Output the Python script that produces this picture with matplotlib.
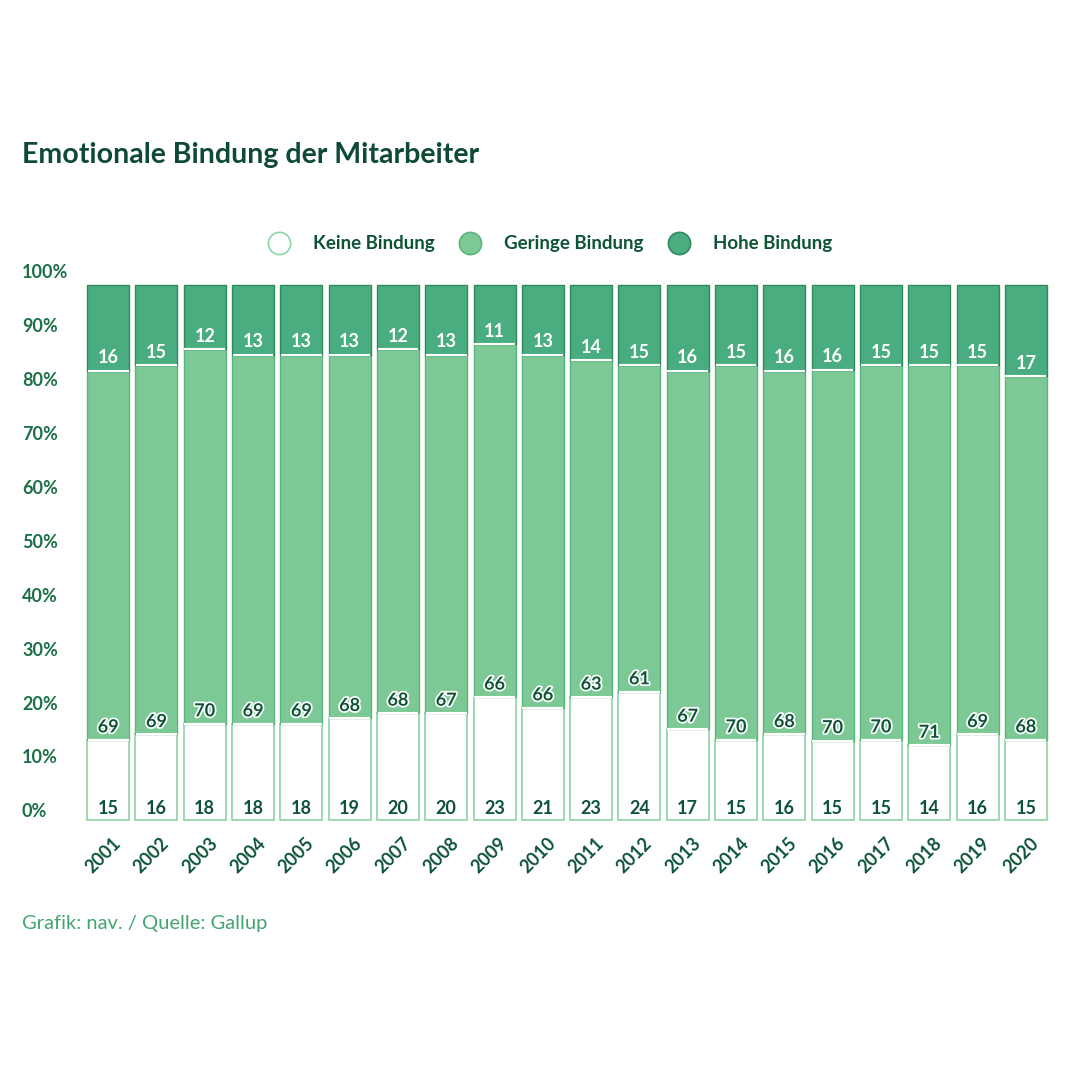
import matplotlib
matplotlib.use("Agg")
import matplotlib.pyplot as plt
from matplotlib.lines import Line2D
from matplotlib.transforms import blended_transform_factory
import matplotlib.patheffects as pe
import numpy as np

years = ["2001", "2002", "2003", "2004", "2005", "2006", "2007", "2008", "2009", "2010",
         "2011", "2012", "2013", "2014", "2015", "2016", "2017", "2018", "2019", "2020"]
keine = [15, 16, 18, 18, 18, 19, 20, 20, 23, 21, 23, 24, 17, 15, 16, 15, 15, 14, 16, 15]
geringe = [69, 69, 70, 69, 69, 68, 68, 67, 66, 66, 63, 61, 67, 70, 68, 70, 70, 71, 69, 68]
hohe = [16, 15, 12, 13, 13, 13, 12, 13, 11, 13, 14, 15, 16, 15, 16, 16, 15, 15, 15, 17]
series_names = ["Keine Bindung", "Geringe Bindung", "Hohe Bindung"]
yticks = [0, 10, 20, 30, 40, 50, 60, 70, 80, 90, 100]

FONT = "Lato"
c_top = "#4aad7f"
c_mid = "#7dc995"
c_edge_top = "#2f8a5f"
c_edge_mid = "#5cb47f"
c_edge_low = "#8fd3a3"
c_dark = "#0d5436"
c_tick = "#1b7047"
c_src = "#44a56f"

fig = plt.figure(figsize=(10.8, 10.8), dpi=100)
fig.patch.set_facecolor("white")
ax = fig.add_axes([84 / 1080, 260 / 1080, 966 / 1080, 535 / 1080])

x = np.arange(len(years))
k0 = np.array(keine, dtype=float)
g0 = np.array(geringe, dtype=float)
h0 = np.array(hohe, dtype=float)
tot = k0 + g0 + h0
# 100% stacked: normalise each year to its total
k = k0 / tot * 100
g = g0 / tot * 100
h = h0 / tot * 100
w = 0.87

ax.bar(x, k, width=w, color="white", edgecolor=c_edge_low, linewidth=1.2, clip_on=False)
ax.bar(x, g, width=w, bottom=k, color=c_mid, edgecolor=c_edge_mid, linewidth=1.0, clip_on=False)
ax.bar(x, h, width=w, bottom=k + g, color=c_top, edgecolor=c_edge_top, linewidth=1.0, clip_on=False)
ax.hlines(k + g, x - w / 2 * 0.97, x + w / 2 * 0.97, colors="white", linewidth=1.5)
ax.hlines(k, x - w / 2 * 0.97, x + w / 2 * 0.97, colors="white", linewidth=1.5)

ax.set_xlim(-0.5, len(years) - 0.5)
ax.set_ylim(0, 100)
for s in ax.spines.values():
    s.set_visible(False)
ax.set_xticks([])
ax.set_yticks([])

stroke = [pe.withStroke(linewidth=2.5, foreground="white")]
for i in range(len(years)):
    ax.text(x[i], 2.2, str(keine[i]), ha="center", va="center", fontsize=13,
            fontweight="bold", color=c_dark, family=FONT)
    ax.text(x[i], k[i] + 2.4, str(geringe[i]), ha="center", va="center", fontsize=13,
            fontweight="bold", color=c_dark, family=FONT, path_effects=stroke)
    ax.text(x[i], k[i] + g[i] + 2.4, str(hohe[i]), ha="center", va="center", fontsize=13,
            fontweight="bold", color="white", family=FONT)
    ax.text(x[i] + 0.08, -2.8, years[i], ha="right", va="top", rotation=45,
            rotation_mode="anchor", fontsize=13, fontweight="bold", color=c_dark, family=FONT)

tr = blended_transform_factory(ax.transAxes, ax.transData)
for v in yticks:
    ax.text(-62 / 966, v * 1.009 + 1.5, f"{v}%", transform=tr, ha="left", va="center",
            fontsize=13, fontweight="bold", color=c_tick, family=FONT)

fig.text(22 / 1080, 1 - 155 / 1080, "Emotionale Bindung der Mitarbeiter", ha="left", va="center",
         fontsize=20.5, fontweight="bold", color="#0f4a33", family=FONT)

handles = [
    Line2D([], [], marker="o", linestyle="none", markersize=16, markerfacecolor="white",
           markeredgecolor=c_edge_low, markeredgewidth=1.2),
    Line2D([], [], marker="o", linestyle="none", markersize=16, markerfacecolor=c_mid,
           markeredgecolor=c_edge_mid, markeredgewidth=1.2),
    Line2D([], [], marker="o", linestyle="none", markersize=16, markerfacecolor=c_top,
           markeredgecolor=c_edge_top, markeredgewidth=1.2),
]
leg = fig.legend(handles, series_names, loc="center", bbox_to_anchor=(546 / 1080, 1 - 244 / 1080),
                 ncol=3, frameon=False, handletextpad=0.8, columnspacing=0.9,
                 prop={"family": FONT, "weight": "bold", "size": 13.5})
for t in leg.get_texts():
    t.set_color(c_dark)

fig.text(22 / 1080, 1 - 923 / 1080, "Grafik: nav. / Quelle: Gallup", ha="left", va="center",
         fontsize=14.5, color=c_src, family=FONT)

fig.savefig("out.png", dpi=100, facecolor="white")
